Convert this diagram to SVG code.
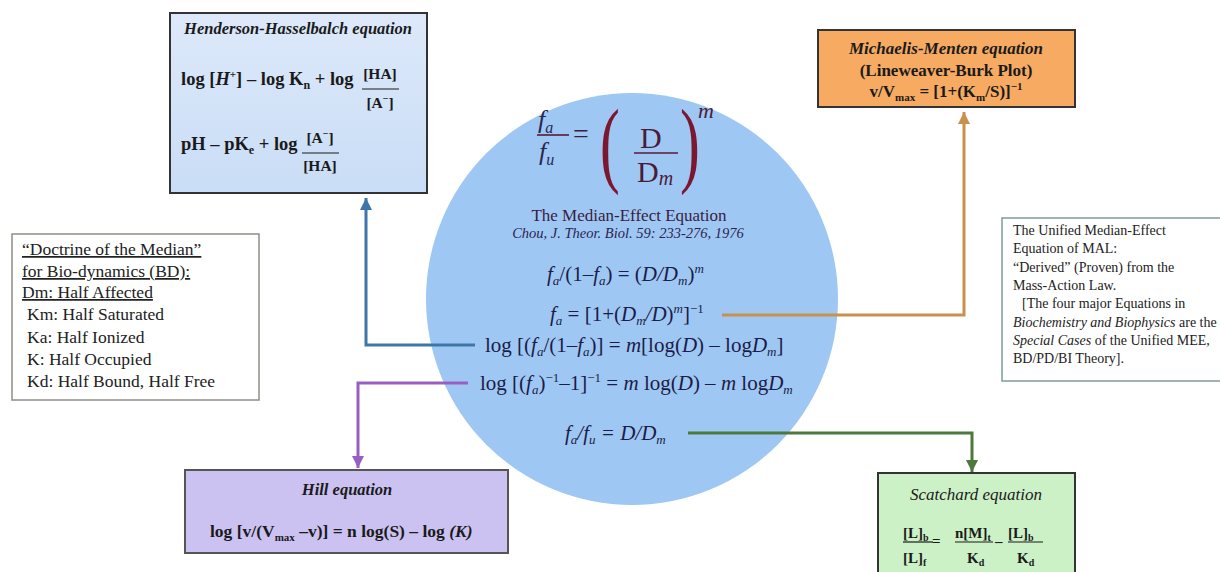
<svg xmlns="http://www.w3.org/2000/svg" width="1220" height="572" viewBox="0 0 1220 572">
<style>
text{font-family:"Liberation Serif","Times New Roman",serif;}
.b{font-weight:bold;}
.i{font-style:italic;}
.eq{font-size:21px;fill:#1c1c48;}
.box{stroke:#333;stroke-width:2;}
.conn{fill:none;stroke-width:3;}
.note{font-size:17.5px;fill:#222;}
.note2{font-size:14px;fill:#222;}
</style>
<defs>
<linearGradient id="hhg" x1="0" y1="0" x2="0" y2="1"><stop offset="0" stop-color="#dde9fa"/><stop offset="1" stop-color="#c9ddf6"/></linearGradient>
<marker id="ab" markerUnits="userSpaceOnUse" markerWidth="12" markerHeight="12" refX="10" refY="5" orient="auto" viewBox="0 0 10 10"><path d="M0,0L10,5L0,10z" fill="#3f76aa"/></marker>
<marker id="ao" markerUnits="userSpaceOnUse" markerWidth="12" markerHeight="12" refX="10" refY="5" orient="auto" viewBox="0 0 10 10"><path d="M0,0L10,5L0,10z" fill="#c8914c"/></marker>
<marker id="ap" markerUnits="userSpaceOnUse" markerWidth="12" markerHeight="12" refX="10" refY="5" orient="auto" viewBox="0 0 10 10"><path d="M0,0L10,5L0,10z" fill="#9a5ec2"/></marker>
<marker id="ag" markerUnits="userSpaceOnUse" markerWidth="12" markerHeight="12" refX="10" refY="5" orient="auto" viewBox="0 0 10 10"><path d="M0,0L10,5L0,10z" fill="#4b7a3c"/></marker>
</defs>
<rect width="1220" height="572" fill="#ffffff"/>

<g id="node-median">
<circle cx="632" cy="299" r="206" fill="#9ec8f3"/>
<text x="538" y="128" class="i" font-size="26" fill="#2a2650">f<tspan font-size="16" dy="5">a</tspan></text>
<line x1="537" y1="135" x2="569" y2="135" stroke="#5a1a35" stroke-width="1.6"/>
<text x="539" y="160" class="i" font-size="26" fill="#2a2650">f<tspan font-size="16" dy="5">u</tspan></text>
<text x="573" y="143" font-size="28" fill="#3a2040">=</text>
<text transform="translate(600,175) scale(0.62,1)" font-size="96" fill="#7b1830">(</text>
<text x="640" y="148" font-size="30" fill="#4a1a38">D</text>
<line x1="634" y1="153" x2="678" y2="153" stroke="#5a1a35" stroke-width="1.6"/>
<text x="637" y="182" font-size="30" fill="#4a1a38">D<tspan class="i" font-size="20" dy="3">m</tspan></text>
<text transform="translate(680,175) scale(0.62,1)" font-size="96" fill="#7b1830">)</text>
<text x="698" y="118" class="i" font-size="22" fill="#4a1a38">m</text>
<text x="629" y="221" text-anchor="middle" font-size="17" fill="#3b1c40">The Median-Effect  Equation</text>
<text x="628" y="238" text-anchor="middle" class="i" font-size="14.5" fill="#2d2252">Chou, J. Theor. Biol. 59: 233-276, 1976</text>
<text x="547" y="281" class="eq"><tspan class="i">f</tspan><tspan class="i" font-size="13" dy="4">a</tspan><tspan dy="-4">/(1–</tspan><tspan class="i">f</tspan><tspan class="i" font-size="13" dy="4">a</tspan><tspan dy="-4">) = (</tspan><tspan class="i">D/D</tspan><tspan class="i" font-size="13" dy="4">m</tspan><tspan dy="-4">)</tspan><tspan class="i" font-size="13" dy="-8">m</tspan></text>
<text x="550" y="321" class="eq"><tspan class="i">f</tspan><tspan class="i" font-size="13" dy="4">a</tspan><tspan dy="-4"> = [1+(</tspan><tspan class="i">D</tspan><tspan class="i" font-size="13" dy="4">m</tspan><tspan class="i" dy="-4">/D</tspan><tspan>)</tspan><tspan class="i" font-size="13" dy="-8">m</tspan><tspan dy="8">]</tspan><tspan font-size="13" dy="-8">−1</tspan></text>
<text x="485" y="352" class="eq">log [(<tspan class="i">f</tspan><tspan class="i" font-size="13" dy="4">a</tspan><tspan dy="-4">/(1–</tspan><tspan class="i">f</tspan><tspan class="i" font-size="13" dy="4">a</tspan><tspan dy="-4">)] = </tspan><tspan class="i">m</tspan><tspan>[log(</tspan><tspan class="i">D</tspan><tspan>) – log</tspan><tspan class="i">D</tspan><tspan class="i" font-size="13" dy="4">m</tspan><tspan dy="-4">]</tspan></text>
<text x="480" y="390" class="eq">log [(<tspan class="i">f</tspan><tspan class="i" font-size="13" dy="4">a</tspan><tspan dy="-4">)</tspan><tspan font-size="13" dy="-8">−1</tspan><tspan dy="8">–1]</tspan><tspan font-size="13" dy="-8">−1</tspan><tspan dy="8"> = </tspan><tspan class="i">m</tspan><tspan> log(</tspan><tspan class="i">D</tspan><tspan>) – </tspan><tspan class="i">m</tspan><tspan> log</tspan><tspan class="i">D</tspan><tspan class="i" font-size="13" dy="4">m</tspan></text>
<text x="565" y="440" class="eq"><tspan class="i">f</tspan><tspan class="i" font-size="13" dy="4">a</tspan><tspan class="i" dy="-4">/f</tspan><tspan class="i" font-size="13" dy="4">u</tspan><tspan class="i" dy="-4"> = D/D</tspan><tspan class="i" font-size="13" dy="4">m</tspan></text>
</g>

<g id="connectors">
<path class="conn" d="M475,345H366V198" stroke="#3f76aa" marker-end="url(#ab)"/>
<path class="conn" d="M722,315H964V112" stroke="#c8914c" marker-end="url(#ao)"/>
<path class="conn" d="M468,383H358V468" stroke="#9a5ec2" marker-end="url(#ap)"/>
<path class="conn" d="M688,433H972V472" stroke="#4b7a3c" marker-end="url(#ag)"/>
</g>

<g id="node-hh">
<rect x="170" y="13" width="257" height="180" fill="url(#hhg)" class="box"/>
<text x="298" y="34" text-anchor="middle" class="b i" font-size="16.5" fill="#1a1a1a">Henderson-Hasselbalch equation</text>
<text x="181" y="85" class="b" font-size="18.5" fill="#1a1a1a">log [<tspan class="i">H</tspan><tspan font-size="11" dy="-7">+</tspan><tspan dy="7">] – log K</tspan><tspan font-size="12" dy="4">n</tspan><tspan dy="-4"> +  log</tspan></text>
<text x="380" y="79" text-anchor="middle" class="b" font-size="15.5" fill="#1a1a1a">[HA]</text>
<line x1="362" y1="89" x2="399" y2="89" stroke="#1a1a1a" stroke-width="1.2"/>
<text x="380" y="108" text-anchor="middle" class="b" font-size="15.5" fill="#1a1a1a">[A<tspan font-size="10" dy="-6">−</tspan><tspan dy="6">]</tspan></text>
<text x="181" y="150" class="b" font-size="18.5" fill="#1a1a1a">pH – pK<tspan font-size="12" dy="4">e</tspan><tspan dy="-4"> + log</tspan></text>
<text x="320" y="143" text-anchor="middle" class="b" font-size="15.5" fill="#1a1a1a">[A<tspan font-size="10" dy="-6">−</tspan><tspan dy="6">]</tspan></text>
<line x1="302" y1="153" x2="339" y2="153" stroke="#1a1a1a" stroke-width="1.2"/>
<text x="320" y="171" text-anchor="middle" class="b" font-size="15.5" fill="#1a1a1a">[HA]</text>
</g>

<g id="node-mm">
<rect x="818" y="30" width="257" height="77" fill="#f7aa62" class="box"/>
<text x="946" y="54" text-anchor="middle" class="b i" font-size="17" fill="#1a1a1a">Michaelis-Menten  equation</text>
<text x="946" y="76" text-anchor="middle" class="b" font-size="17" fill="#1a1a1a">(Lineweaver-Burk Plot)</text>
<text x="946" y="97" text-anchor="middle" class="b" font-size="17" fill="#1a1a1a">v/V<tspan font-size="11" dy="4">max</tspan><tspan dy="-4"> = [1+(K</tspan><tspan font-size="11" dy="4">m</tspan><tspan dy="-4">/S)]</tspan><tspan font-size="11" dy="-7">−1</tspan></text>
</g>

<g id="node-doctrine">
<rect x="12" y="234" width="247" height="166" fill="#ffffff" stroke="#8f8f84" stroke-width="1.5"/>
<text x="22" y="255" class="note" text-decoration="underline">“Doctrine of  the Median”</text>
<text x="22" y="277" class="note" text-decoration="underline">for Bio-dynamics (BD):</text>
<text x="22" y="298" class="note" text-decoration="underline">Dm: Half  Affected</text>
<text x="27" y="320" class="note">Km: Half  Saturated</text>
<text x="27" y="343" class="note">Ka: Half  Ionized</text>
<text x="27" y="365" class="note">K: Half  Occupied</text>
<text x="27" y="387" class="note">Kd: Half  Bound, Half  Free</text>
</g>

<g id="node-unified">
<rect x="1002" y="218" width="230" height="163" fill="#ffffff" stroke="#7d9c9c" stroke-width="1.5"/>
<text x="1013" y="235" class="note2">The Unified Median-Effect</text>
<text x="1013" y="253" class="note2">Equation of MAL:</text>
<text x="1013" y="272" class="note2">“Derived” (Proven) from the</text>
<text x="1013" y="290" class="note2">Mass-Action Law.</text>
<text x="1022" y="308" class="note2">[The four major Equations in</text>
<text x="1013" y="327" class="note2"><tspan class="i">Biochemistry and Biophysics</tspan> are the</text>
<text x="1013" y="345" class="note2"><tspan class="i">Special Cases</tspan> of the Unified MEE,</text>
<text x="1013" y="363" class="note2">BD/PD/BI Theory].</text>
</g>

<g id="node-hill">
<rect x="185" y="470" width="323" height="83" fill="#cbc2f2" stroke="#555" stroke-width="2"/>
<text x="347" y="495" text-anchor="middle" class="b i" font-size="16.5" fill="#1a1a1a">Hill equation</text>
<text x="210" y="537" class="b" font-size="17.5" fill="#1a1a1a">log [v/(V<tspan font-size="11" dy="4">max</tspan><tspan dy="-4"> –v)] = n log(S) – log </tspan><tspan class="i">(K)</tspan></text>
</g>

<g id="node-scatchard">
<rect x="878" y="473" width="197" height="110" fill="#cdf1c6" class="box"/>
<text x="976" y="500" text-anchor="middle" class="i" font-size="17" fill="#1a1a1a">Scatchard equation</text>
<text x="903" y="538" class="b" font-size="15" fill="#1a1a1a">[L]<tspan font-size="10" dy="3">b</tspan></text>
<line x1="903" y1="542" x2="933" y2="542" stroke="#1a1a1a" stroke-width="1.2"/>
<text x="932" y="546" class="b" font-size="15" fill="#1a1a1a">=</text>
<text x="955" y="538" class="b" font-size="15" fill="#1a1a1a">n[M]<tspan font-size="10" dy="3">t</tspan></text>
<line x1="955" y1="542" x2="993" y2="542" stroke="#1a1a1a" stroke-width="1.2"/>
<text x="995" y="546" class="b" font-size="15" fill="#1a1a1a">–</text>
<text x="1008" y="538" class="b" font-size="15" fill="#1a1a1a">[L]<tspan font-size="10" dy="3">b</tspan></text>
<line x1="1008" y1="542" x2="1043" y2="542" stroke="#1a1a1a" stroke-width="1.2"/>
<text x="903" y="563" class="b" font-size="15" fill="#1a1a1a">[L]<tspan font-size="10" dy="3">f</tspan></text>
<text x="967" y="563" class="b" font-size="15" fill="#1a1a1a">K<tspan font-size="10" dy="3">d</tspan></text>
<text x="1017" y="563" class="b" font-size="15" fill="#1a1a1a">K<tspan font-size="10" dy="3">d</tspan></text>
</g>
</svg>
